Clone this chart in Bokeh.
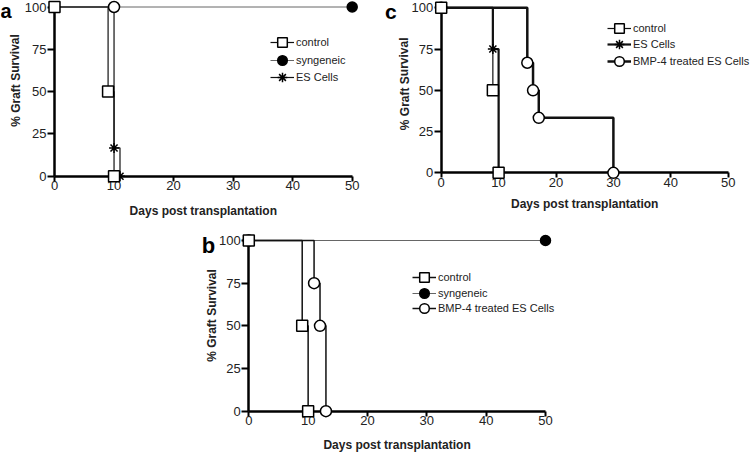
from bokeh.plotting import figure
from bokeh.models import Range1d, FixedTicker, Legend, LegendItem, Label, ColumnDataSource, Spacer
from bokeh.layouts import column, row
from bokeh.embed import file_html
from bokeh.resources import INLINE

FONT = "Liberation Sans"
x_ticks = [0, 10, 20, 30, 40, 50]
y_ticks = [0, 25, 50, 75, 100]
x_title = "Days post transplantation"
y_title = "% Graft Survival"

# ---- panel a ----
a_control_days = [0, 9, 10]
a_control_surv = [100, 50, 0]
a_syn_days = [0, 50]
a_syn_surv = [100, 100]
a_es_days = [0, 10, 11]
a_es_surv = [100, 16.7, 0]
a_open_days = [10]
a_open_surv = [100]

# ---- panel c ----
c_control_days = [0, 9, 10]
c_control_surv = [100, 50, 0]
c_es_days = [0, 9, 10]
c_es_surv = [100, 75, 0]
c_bmp_days = [0, 15, 16, 17, 30]
c_bmp_surv = [100, 66.7, 50, 33.3, 0]

# ---- panel b ----
b_control_days = [0, 9, 10]
b_control_surv = [100, 50, 0]
b_syn_days = [0, 50]
b_syn_surv = [100, 100]
b_bmp_days = [0, 11, 12, 13]
b_bmp_surv = [100, 75, 50, 0]

MARK = {
    "control": dict(marker="square", size=11, fill_color="white"),
    "syngeneic": dict(marker="circle", size=10, fill_color="black"),
    "ES Cells": dict(marker="asterisk", size=10, fill_color="white"),
    "BMP-4 treated ES Cells": dict(marker="circle", size=11, fill_color="white"),
}

GLYPH = 24


def panel(geo, series, legend_x, legend_rows, letter, letter_px, letter_size,
          ytitle_px, xtitle_px, extra=None):
    W, H, x0, x50, y100, y0 = geo
    sx = (x50 - x0) / 50.0
    sy = (y0 - y100) / 100.0
    xs, xe = -x0 / sx, (W - x0) / sx
    yt, yb = 100 + y100 / sy, -(H - y0) / sy

    def dx(px):
        return xs + px / sx

    def dy(py):
        return yt - py / sy

    p = figure(width=W, height=H, output_backend="svg", toolbar_location=None,
               x_range=Range1d(xs, xe), y_range=Range1d(yb, yt), title=None,
               min_border_left=0, min_border_right=0, min_border_top=0, min_border_bottom=0)
    p.grid.visible = False
    p.outline_line_color = None
    for ax, ticks, bnd, tout, so in ((p.xaxis[0], x_ticks, (0, 50), 5, 0),
                                     (p.yaxis[0], y_ticks, (0, 100), 7, 1)):
        ax.ticker = FixedTicker(ticks=ticks)
        ax.bounds = bnd
        ax.fixed_location = 0
        ax.axis_line_width = 2.5
        ax.axis_line_color = "black"
        ax.major_tick_line_width = 2
        ax.major_tick_out = tout
        ax.major_tick_in = 0
        ax.minor_tick_out = 0
        ax.minor_tick_in = 0
        ax.major_label_text_font = FONT
        ax.major_label_text_font_size = "13px"
        ax.major_label_text_color = "#222"
        ax.major_label_standoff = so

    lines = {}
    for name, days, surv, lw, lc in series:
        src = ColumnDataSource(dict(x=days, y=surv))
        lines[name] = (src, p.step(x="x", y="y", source=src, mode="after", line_width=lw, line_color=lc))
    marks = {}
    for name, days, surv, lw, lc in reversed(series):
        src = lines[name][0]
        m = MARK[name]
        marks[name] = p.scatter(x="x", y="y", source=src, marker=m["marker"], size=m["size"],
                                fill_color=m["fill_color"], line_color="black", line_width=1.5,
                                level="overlay")
    if extra is not None:
        ex_days, ex_surv = extra
        p.scatter(x=ex_days, y=ex_surv, marker="circle", size=11, fill_color="white",
                  line_color="black", line_width=1.5, level="overlay")

    # one single-row legend per series so the row pitch can follow the reference
    for (name, *_), row_center in zip(series, legend_rows):
        leg = Legend(items=[LegendItem(label=name, renderers=[lines[name][1], marks[name]])],
                     location=(legend_x, H - row_center - GLYPH / 2),
                     glyph_width=GLYPH, glyph_height=GLYPH, label_height=14, spacing=0,
                     padding=0, margin=0, label_standoff=2,
                     border_line_alpha=0, background_fill_alpha=0,
                     label_text_font=FONT, label_text_font_size="11px", label_text_color="#222")
        p.add_layout(leg, "center")

    p.add_layout(Label(x=dx(letter_px[0]), y=dy(letter_px[1]), text=letter, text_font=FONT,
                       text_font_size=letter_size, text_font_style="bold", text_align="left",
                       text_baseline="middle", text_color="black"))
    p.add_layout(Label(x=dx(ytitle_px[0]), y=dy(ytitle_px[1]), text=y_title, text_font=FONT,
                       text_font_size="12px", text_font_style="bold", text_align="center",
                       text_baseline="middle", angle=1.5708, text_color="#222"))
    p.add_layout(Label(x=dx(xtitle_px[0]), y=dy(xtitle_px[1]), text=x_title, text_font=FONT,
                       text_font_size="12px", text_font_style="bold", text_align="center",
                       text_baseline="middle", text_color="#222"))
    return p


# geometry: width, height, px of x=0, px of x=50, px of y=100, px of y=0
pa = panel((375, 220, 54, 351.7, 6.5, 175.7),
           [("control", a_control_days, a_control_surv, 1.2, "#111"),
            ("syngeneic", a_syn_days, a_syn_surv, 1.0, "#666"),
            ("ES Cells", a_es_days, a_es_surv, 1.2, "#111")],
           270, (41.7, 60.3, 76.5), "a", (0, 10.5), "20px", (15, 80), (202.8, 210.6),
           extra=(a_open_days, a_open_surv))

pc = panel((375, 220, 65.7, 352.7, 7.3, 172.3),
           [("control", c_control_days, c_control_surv, 1.2, "#111"),
            ("ES Cells", c_es_days, c_es_surv, 2.2, "#111"),
            ("BMP-4 treated ES Cells", c_bmp_days, c_bmp_surv, 2.5, "#111")],
           232, (27.7, 44.2, 61), "c", (9.5, 11.3), "21px", (29, 83.3), (209.2, 203.3))

pb = panel((400, 232, 68.3, 365, 20, 190.7),
           [("control", b_control_days, b_control_surv, 1.5, "#111"),
            ("syngeneic", b_syn_days, b_syn_surv, 1.0, "#666"),
            ("BMP-4 treated ES Cells", b_bmp_days, b_bmp_surv, 1.5, "#111")],
           232, (57.3, 72.7, 88.3), "b", (21.2, 25.3), "22px", (31.7, 95), (216.6, 224))

layout = column(row(pa, pc), row(Spacer(width=180, height=232), pb))

open("out.html", "w").write(file_html(layout, INLINE))
